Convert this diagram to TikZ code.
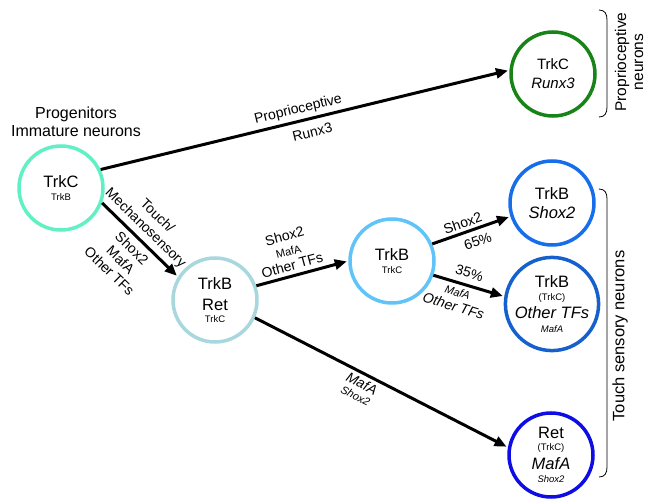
\documentclass[tikz,border=0pt]{standalone}
\usepackage{fontspec}
\setmainfont{Liberation Sans}
\usetikzlibrary{arrows.meta}
\definecolor{cA}{RGB}{96,240,196}
\definecolor{cB}{RGB}{168,216,222}
\definecolor{cC}{RGB}{96,196,248}
\definecolor{cD}{RGB}{22,110,235}
\definecolor{cE}{RGB}{22,96,205}
\definecolor{cF}{RGB}{14,14,228}
\definecolor{cG}{RGB}{24,132,24}
\newcommand\smlt[1]{{\fontsize{9.5}{11}\selectfont #1}}
\newcommand\smlab[1]{{\fontsize{11}{12}\selectfont #1}}
\begin{document}
\begin{tikzpicture}[x=1pt,y=-1pt,
  cell/.style={circle, draw, line width=3.5pt, minimum size=84pt, inner sep=0pt,
    align=center, font=\fontsize{16.5}{19.8}\selectfont},
  arr/.style={line width=3pt, -{Triangle[length=12pt,width=10pt]}, shorten >=1.5pt},
  lbl/.style={sloped, align=center, font=\fontsize{14}{15}\selectfont, inner sep=1pt},
  txt/.style={align=center, font=\fontsize{16}{19}\selectfont, inner sep=0pt},
  brk/.style={line width=0.8pt}
]
\path[use as bounding box] (0,0) rectangle (654,500);

% cells
\node[cell, draw=cA] (A) at (61,188) {TrkC\\[-7.4pt]\smlt{TrkB}};
\node[cell, draw=cB] (B) at (215,300) {TrkB\\[1pt]Ret\\[-8.4pt]\smlt{TrkC}};
\node[cell, draw=cC] (C) at (392,261) {TrkB\\[-7.4pt]\smlt{TrkC}};
\node[cell, draw=cD] (D) at (552,203) {TrkB\\[-0.8pt]\textit{Shox2}};
\node[cell, draw=cE] (E) at (552,304) {TrkB\\[-7.4pt]\smlt{(TrkC)}\\[-1.2pt]\textit{Other TFs}\\[-6.4pt]\smlt{\textit{MafA}}};
\node[cell, draw=cF] (F) at (551,455) {Ret\\[-7.4pt]\smlt{(TrkC)}\\[-1.2pt]\textit{MafA}\\[-6.4pt]\smlt{\textit{Shox2}}};
\node[cell, draw=cG, font=\fontsize{15}{18}\selectfont] (G) at (553,74) {TrkC\\[1pt]\textit{Runx3}};

% title
\node[txt] (prog) at (76,122) {Progenitors\\[-1pt]Immature neurons};

% connectors
\draw[arr] (A.25) -- (G.175)
  node[lbl, pos=0.49, above=2.5pt] (l1) {Proprioceptive}
  node[lbl, pos=0.51, below=6pt] (l2) {Runx3};
\draw[arr] (A.-20) -- (B.148)
  node[lbl, pos=0.46, above=3pt] (l3) {Touch/\\[1.5pt]Mechanosensory}
  node[lbl, pos=0.5, below=4pt] (l4) {Shox2\\[1pt]MafA\\[1pt]Other TFs};
\draw[arr] (B.19) -- (C.180)
  node[lbl, pos=0.42, above=3pt] (l5) {Shox2\\[0pt]\smlab{MafA}\\[0pt]Other TFs};
\draw[arr] (C.23) -- (D.-162)
  node[lbl, pos=0.43, above=2pt] (l6) {Shox2}
  node[lbl, pos=0.53, below=5pt] (l7) {65\%};
\draw[arr] (C.-19) -- (E.171)
  node[lbl, pos=0.46, above=5pt] (l8) {35\%}
  node[lbl, pos=0.38, below=3pt] (l9) {\smlab{\textit{MafA}}\\[0pt]\textit{Other TFs}};
\draw[arr] (B.-24) -- (F.170)
  node[lbl, pos=0.44, below=2pt] (l10) {\textit{MafA}\\[-2pt]\smlab{\textit{Shox2}}};

% brackets
\draw[brk] (599,10) .. controls (605,10) and (607,14) .. (607,20) -- (607,107)
  .. controls (607,113) and (605,117) .. (599,117);
\draw[brk] (599,189) .. controls (605,189) and (607,193) .. (607,199) -- (607,467)
  .. controls (607,473) and (605,477) .. (599,477);
\node[txt, rotate=90, font=\fontsize{15.5}{17}\selectfont] (prop) at (629,62) {Proprioceptive\\neurons};
\node[txt, rotate=90, font=\fontsize{16.5}{18}\selectfont] (touch) at (620,336) {Touch sensory neurons};
\end{tikzpicture}
\end{document}
